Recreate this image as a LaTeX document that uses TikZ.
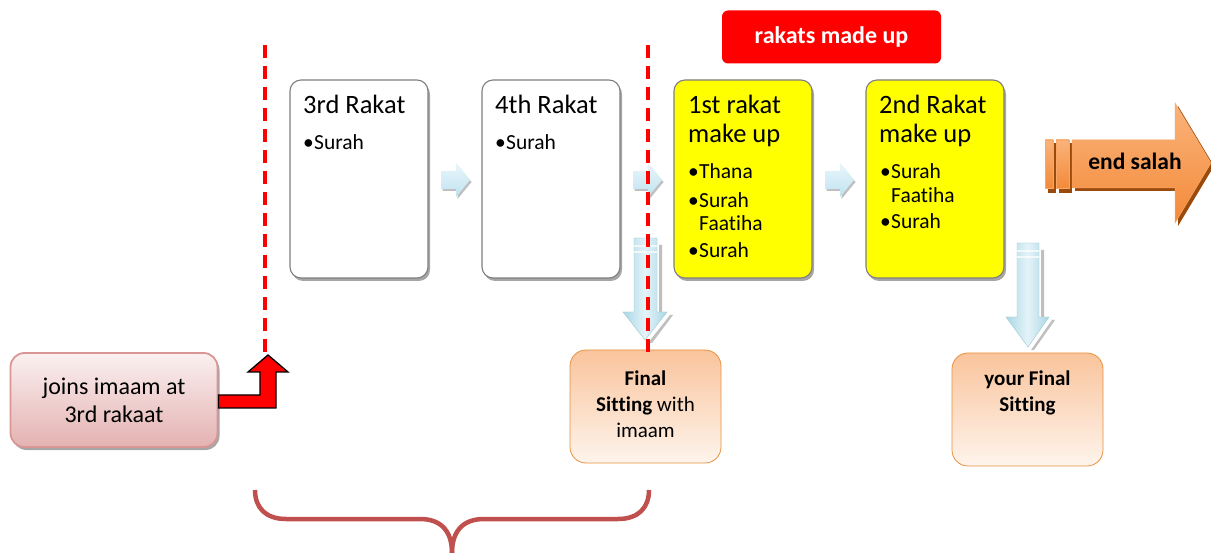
\documentclass[tikz,border=0pt]{standalone}
\usepackage{fontspec}
\setmainfont{Carlito}[RawFeature={-liga;-clig;-calt;-dlig}]
\usetikzlibrary{shadows}
\newcommand{\nl}{\kern0pt}
\definecolor{dashred}{HTML}{FF0000}
\definecolor{boxgray}{HTML}{7F7F7F}
\definecolor{ylw}{HTML}{FFFF00}
\definecolor{lbA}{HTML}{EAF6FB}
\definecolor{lbB}{HTML}{BFE3F0}
\definecolor{dbA}{HTML}{A9D8E6}
\definecolor{dbB}{HTML}{E4F3F8}
\definecolor{orA}{HTML}{F9C49C}
\definecolor{orB}{HTML}{FEF4EC}
\definecolor{orE}{HTML}{E9913F}
\definecolor{pkA}{HTML}{FBF0F0}
\definecolor{pkB}{HTML}{E3B2B1}
\definecolor{pkE}{HTML}{D99694}
\definecolor{brace}{HTML}{C0504D}
\definecolor{endA}{HTML}{FAB37A}
\definecolor{endB}{HTML}{F38A3A}
\definecolor{endS}{HTML}{9A4A0A}
\begin{document}
\begin{tikzpicture}[x=1pt,y=-1pt,
  rbox/.style={draw=boxgray, line width=1.1pt, rounded corners=11pt, minimum width=138pt, minimum height=198pt, inner sep=0pt,
     drop shadow={shadow xshift=2pt, shadow yshift=-3pt, opacity=0.35, fill=black}},
  ttl/.style={anchor=base west, inner sep=0pt, font=\fontsize{26.5}{31}\selectfont},
  bul/.style={anchor=base west, inner sep=0pt, font=\fontsize{21.5}{25}\selectfont},
  sitbox/.style={draw=orE, line width=0.8pt, rounded corners=16pt, minimum width=151pt, minimum height=113pt, inner sep=0pt, top color=orA, bottom color=orB},
  sittxt/.style={align=center, inner sep=0pt, font=\fontsize{21}{26}\selectfont},
  redline/.style={draw=dashred, line width=3.2pt, dash pattern=on 13pt off 8pt},
  smallarr/.style={top color=lbA, bottom color=lbB, draw=none, drop shadow={shadow xshift=1.5pt, shadow yshift=-2pt, opacity=0.25, fill=black}},
  downarr/.style={left color=dbA, right color=dbA, middle color=dbB, draw=dbA!80!gray, line width=0.4pt},
  pad/.style={inner sep=0pt, outer sep=0pt}
]
\useasboundingbox[fill=white] (0,0) rectangle (1211,553);

% rakat boxes
\node[rbox, fill=white] (b3) at (359,179) {};
\node[rbox, fill=white] (b4) at (551,179) {};
\node[rbox, fill=ylw] (b1) at (743,179) {};
\node[rbox, fill=ylw] (b2) at (935,179) {};

\node[ttl] (b3t) at (303,114) {3rd Rakat};
\node[bul] (b3s) at (303,150) {\makebox[11pt][l]{•}Surah};
\node[ttl] (b4t) at (495,114) {4th Rakat};
\node[bul] (b4s) at (495,150) {\makebox[11pt][l]{•}Surah};

\node[ttl] (b1t) at (688,114) {1st rakat};
\node[ttl] (b1u) at (688,143) {make up};
\node[bul] (b1a) at (688,179) {\makebox[11pt][l]{•}Thana};
\node[bul] (b1b) at (688,208) {\makebox[11pt][l]{•}Surah};
\node[bul] (b1c) at (699,231) {Faat\nl iha};
\node[bul] (b1d) at (688,258) {\makebox[11pt][l]{•}Surah};

\node[ttl] (b2t) at (879,114) {2nd Rakat};
\node[ttl] (b2u) at (879,143) {make up};
\node[bul] (b2a) at (880,179) {\makebox[11pt][l]{•}Surah};
\node[bul] (b2b) at (891,203) {Faat\nl iha};
\node[bul] (b2c) at (880,229) {\makebox[11pt][l]{•}Surah};

% small light-blue arrows between boxes
\path[smallarr] (441,171) -- (456,171) -- (456,163) -- (470,180) -- (456,197) -- (456,189) -- (441,189) -- cycle;
\path[smallarr] (633,171) -- (648,171) -- (648,163) -- (662,180) -- (648,197) -- (648,189) -- (633,189) -- cycle;
\path[smallarr] (825,171) -- (840,171) -- (840,163) -- (854,180) -- (840,197) -- (840,189) -- (825,189) -- cycle;

% rakats made up label
\node[fill=dashred, rounded corners=6pt, minimum width=219pt, minimum height=53pt, inner sep=0pt,
      text=white, font=\fontsize{24}{28}\selectfont\bfseries] (made) at (831.5,37) {rakats made up};

% end salah arrow
\fill[endS] (1048,143) rectangle (1056,193);
\fill[endS] (1059,143) rectangle (1072,193);
\fill[endS] (1075,143) -- (1178,143) -- (1178,106) -- (1214,166) -- (1178,226) -- (1178,191) -- (1075,191) -- cycle;
\path[top color=endA, bottom color=endB, draw=endA!70!endB, line width=0.5pt] (1045,140) rectangle (1053,188);
\path[top color=endA, bottom color=endB, draw=endA!70!endB, line width=0.5pt] (1056,140) rectangle (1069,188);
\path[top color=endA, bottom color=endB, draw=endA!70!endB, line width=0.5pt]
  (1072,140) -- (1175,140) -- (1175,103) -- (1211,163) -- (1175,223) -- (1175,188) -- (1072,188) -- cycle;
\node[font=\fontsize{23.5}{28}\selectfont\bfseries, inner sep=0pt] (endtxt) at (1135,161) {end salah};

% final sitting boxes
\node[sitbox] (fs1) at (645.5,406.5) {};
\node[sittxt] (fs1t) at (645.5,404) {\textbf{Final}\\\textbf{Sit\nl ting} with\\imaam};
\node[sitbox] (fs2) at (1027.5,409.5) {};
\node[sittxt] (fs2t) at (1027.5,393) {\textbf{your Final}\\\textbf{Sit\nl ting}};

% down arrows
\fill[gray!50] (659,245) -- (659,315) -- (670,315) -- (648,343) -- (652,343) -- (673,315) -- (662,315) -- (662,245) -- cycle;
\path[downarr] (634,238) -- (657,238) -- (657,312) -- (667,312) -- (645,340) -- (623,312) -- (634,312) -- cycle;
\fill[white, opacity=0.7] (634,245) rectangle (657,247);
\fill[white, opacity=0.7] (634,251) rectangle (657,253);
\fill[gray!50] (1041,250) -- (1041,320) -- (1052,320) -- (1031,350) -- (1034,350) -- (1055,320) -- (1044,320) -- (1044,250) -- cycle;
\path[downarr] (1017,243) -- (1039,243) -- (1039,317) -- (1049,317) -- (1028,347) -- (1006,317) -- (1017,317) -- cycle;
\fill[white, opacity=0.7] (1017,250) rectangle (1039,252);
\fill[white, opacity=0.7] (1017,256) rectangle (1039,258);

% join box
\node[draw=pkE, line width=1.8pt, rounded corners=14pt, minimum width=207pt, minimum height=94pt, inner sep=0pt,
      top color=pkA, bottom color=pkB, align=center, font=\fontsize{24}{28}\selectfont,
      drop shadow={shadow xshift=2pt, shadow yshift=-3pt, opacity=0.35, fill=black}] (join) at (114,400) {joins imaam at\\3rd rakaat};

% dashed red lines
\coordinate (d1top) at (265,45);
\coordinate (d1bot) at (265,352);
\coordinate (d2top) at (648,45);
\coordinate (d2bot) at (648,352);
\draw[redline] (d1top) -- (d1bot);
\draw[redline] (d2top) -- (d2bot);

% red bent arrow
\draw[fill=dashred, draw=black, line width=1.3pt, line join=miter]
  (join.east |- 0,395) -- (260,395) -- (260,372) -- (248,372) -- (268,355) -- (288,372) -- (276,372) -- (276,408) -- (join.east |- 0,408) -- cycle;

% brace
\draw[brace, line width=4.5pt, line cap=butt]
  (255,490) .. controls (255,508) and (266,519) .. (286,519) -- (420,519) .. controls (440,519) and (452,530) .. (452,553);
\draw[brace, line width=4.5pt, line cap=butt]
  (649,490) .. controls (649,508) and (638,519) .. (618,519) -- (484,519) .. controls (464,519) and (452,530) .. (452,553);
\end{tikzpicture}
\end{document}
